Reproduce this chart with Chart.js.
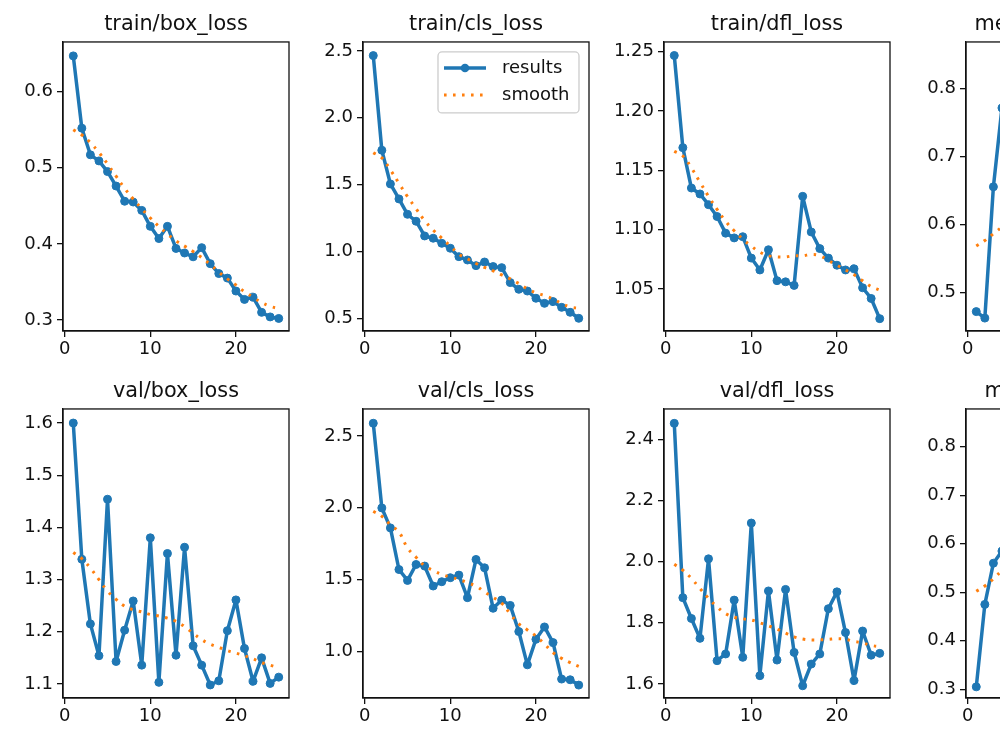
<!DOCTYPE html>
<html>
<head>
<meta charset="utf-8">
<script src="https://cdn.jsdelivr.net/npm/chart.js@4.4.1/dist/chart.umd.min.js"></script>
<style>
  html, body { margin: 0; padding: 0; background: #fff; overflow: hidden; width: 1000px; height: 750px; }
  canvas { position: absolute; }
</style>
</head>
<body>
<script>
// epochs
const epochs = [1, 2, 3, 4, 5, 6, 7, 8, 9, 10, 11, 12, 13, 14, 15, 16, 17, 18, 19, 20, 21, 22, 23, 24, 25];
const xTicks = [0, 10, 20];

// series
const trainBox = [0.647, 0.552, 0.517, 0.509, 0.495, 0.476, 0.456, 0.455, 0.444, 0.423, 0.407, 0.423, 0.394, 0.388, 0.383, 0.395, 0.374, 0.361, 0.355, 0.338, 0.327, 0.330, 0.310, 0.304, 0.302];
const trainBoxSmooth = [0.550, 0.543, 0.533, 0.520, 0.505, 0.489, 0.473, 0.459, 0.446, 0.434, 0.423, 0.413, 0.404, 0.397, 0.390, 0.382, 0.373, 0.363, 0.354, 0.346, 0.337, 0.330, 0.323, 0.318, 0.315];

const trainCls = [2.465, 1.757, 1.505, 1.393, 1.278, 1.226, 1.116, 1.099, 1.061, 1.024, 0.961, 0.936, 0.894, 0.921, 0.887, 0.879, 0.767, 0.717, 0.704, 0.650, 0.612, 0.625, 0.582, 0.545, 0.500];
const trainClsSmooth = [1.739, 1.70, 1.61, 1.51, 1.41, 1.32, 1.23, 1.16, 1.10, 1.04, 0.98, 0.945, 0.91, 0.88, 0.855, 0.825, 0.795, 0.76, 0.72, 0.69, 0.67, 0.645, 0.61, 0.585, 0.575];

const trainDfl = [1.2466, 1.169, 1.135, 1.130, 1.121, 1.111, 1.097, 1.093, 1.094, 1.076, 1.066, 1.083, 1.057, 1.056, 1.053, 1.128, 1.098, 1.084, 1.076, 1.070, 1.066, 1.067, 1.051, 1.042, 1.025];
const trainDflSmooth = [1.166, 1.162, 1.152, 1.140, 1.128, 1.117, 1.107, 1.099, 1.092, 1.086, 1.081, 1.078, 1.077, 1.077, 1.078, 1.078, 1.079, 1.078, 1.074, 1.070, 1.066, 1.062, 1.057, 1.052, 1.049];

// only the first epochs of the cut-off panels are visible
const precision = [0.4715, 0.462, 0.655, 0.771];
const precisionSmooth = [0.568, 0.576, 0.586, 0.596];

const valBox = [1.600, 1.339, 1.215, 1.154, 1.454, 1.143, 1.203, 1.259, 1.136, 1.380, 1.103, 1.350, 1.155, 1.362, 1.173, 1.136, 1.098, 1.106, 1.202, 1.261, 1.168, 1.105, 1.150, 1.101, 1.113];
const valBoxSmooth = [1.352, 1.340, 1.322, 1.300, 1.278, 1.262, 1.249, 1.242, 1.238, 1.233, 1.230, 1.226, 1.220, 1.210, 1.197, 1.185, 1.176, 1.170, 1.164, 1.159, 1.154, 1.148, 1.141, 1.136, 1.131];

const valCls = [2.588, 1.998, 1.859, 1.569, 1.493, 1.604, 1.593, 1.454, 1.484, 1.512, 1.530, 1.373, 1.639, 1.581, 1.299, 1.356, 1.319, 1.137, 0.905, 1.083, 1.169, 1.060, 0.806, 0.801, 0.764];
const valClsSmooth = [1.975, 1.94, 1.88, 1.83, 1.72, 1.655, 1.595, 1.563, 1.535, 1.516, 1.50, 1.477, 1.454, 1.412, 1.375, 1.335, 1.26, 1.19, 1.148, 1.106, 1.05, 0.99, 0.95, 0.92, 0.894];

const valDfl = [2.452, 1.882, 1.814, 1.749, 2.009, 1.676, 1.698, 1.874, 1.687, 2.126, 1.627, 1.904, 1.678, 1.909, 1.703, 1.594, 1.665, 1.698, 1.846, 1.901, 1.768, 1.611, 1.773, 1.694, 1.700];
const valDflSmooth = [1.991, 1.972, 1.945, 1.912, 1.880, 1.852, 1.830, 1.818, 1.813, 1.809, 1.800, 1.790, 1.779, 1.766, 1.754, 1.747, 1.744, 1.744, 1.746, 1.748, 1.746, 1.739, 1.734, 1.726, 1.722];

const map50 = [0.305, 0.475, 0.56, 0.585];
const map50Smooth = [0.502, 0.513, 0.528, 0.545];

// y tick labels per panel
const ticksTrainBox = ['0.3', '0.4', '0.5', '0.6'];
const ticksTrainCls = ['0.5', '1.0', '1.5', '2.0', '2.5'];
const ticksTrainDfl = ['1.05', '1.10', '1.15', '1.20', '1.25'];
const ticksPrecision = ['0.5', '0.6', '0.7', '0.8'];
const ticksValBox = ['1.1', '1.2', '1.3', '1.4', '1.5', '1.6'];
const ticksValCls = ['1.0', '1.5', '2.0', '2.5'];
const ticksValDfl = ['1.6', '1.8', '2.0', '2.2', '2.4'];
const ticksMap50 = ['0.3', '0.4', '0.5', '0.6', '0.7', '0.8'];

const FONT = 'DejaVu Sans';
const INK = '#111';
const TICK_SIZE = 18;

const panels = [
  { title: 'train/box_loss', y: trainBox, s: trainBoxSmooth, ticks: ticksTrainBox, lim: [0.2855, 0.6653], col: 0, row: 0 },
  { title: 'train/cls_loss', y: trainCls, s: trainClsSmooth, ticks: ticksTrainCls, lim: [0.405, 2.567], col: 1, row: 0, legend: true },
  { title: 'train/dfl_loss', y: trainDfl, s: trainDflSmooth, ticks: ticksTrainDfl, lim: [1.0146, 1.258], col: 2, row: 0 },
  { title: 'metrics/precision(B)', y: precision, s: precisionSmooth, ticks: ticksPrecision, lim: [0.443, 0.868], col: 3, row: 0 },
  { title: 'val/box_loss', y: valBox, s: valBoxSmooth, ticks: ticksValBox, lim: [1.073, 1.627], col: 0, row: 1 },
  { title: 'val/cls_loss', y: valCls, s: valClsSmooth, ticks: ticksValCls, lim: [0.674, 2.6875], col: 1, row: 1 },
  { title: 'val/dfl_loss', y: valDfl, s: valDflSmooth, ticks: ticksValDfl, lim: [1.554, 2.499], col: 2, row: 1 },
  { title: 'metrics/mAP50(B)', y: map50, s: map50Smooth, ticks: ticksMap50, lim: [0.282, 0.878], col: 3, row: 1 }
];

const colLeft = [0, 300, 601, 903];
const rowTop = [0, 367];

function xy(vals) {
  return vals.map((v, i) => ({ x: epochs[i], y: v }));
}

// full box around the axes, like matplotlib spines
const frame = {
  id: 'frame',
  afterDraw(chart) {
    const a = chart.chartArea, ctx = chart.ctx;
    ctx.save();
    ctx.strokeStyle = INK;
    ctx.lineWidth = 1.3;
    ctx.strokeRect(a.left, a.top, a.right - a.left, a.bottom - a.top);
    ctx.restore();
  }
};

// boxed legend in the upper right corner of the axes
const boxLegend = {
  id: 'boxLegend',
  afterDraw(chart) {
    const a = chart.chartArea, ctx = chart.ctx;
    const ds = chart.data.datasets;
    const w = 141, h = 61;
    const x0 = a.right - 10 - w, y0 = a.top + 10;
    ctx.save();
    ctx.beginPath();
    ctx.roundRect(x0, y0, w, h, 4);
    ctx.fillStyle = 'rgba(255,255,255,0.8)';
    ctx.fill();
    ctx.strokeStyle = '#cccccc';
    ctx.lineWidth = 1.3;
    ctx.stroke();

    const rows = [y0 + 16, y0 + 43];
    const res = ds.find(d => d.label === 'results');
    const sm = ds.find(d => d.label === 'smooth');
    // results: line with a dot
    ctx.strokeStyle = res.borderColor;
    ctx.lineWidth = res.borderWidth;
    ctx.beginPath();
    ctx.moveTo(x0 + 6, rows[0]);
    ctx.lineTo(x0 + 48, rows[0]);
    ctx.stroke();
    ctx.fillStyle = res.borderColor;
    ctx.beginPath();
    ctx.arc(x0 + 27, rows[0], 4.3, 0, Math.PI * 2);
    ctx.fill();
    // smooth: dotted line
    ctx.strokeStyle = sm.borderColor;
    ctx.lineWidth = sm.borderWidth;
    ctx.setLineDash(sm.borderDash);
    ctx.beginPath();
    ctx.moveTo(x0 + 6, rows[1]);
    ctx.lineTo(x0 + 48, rows[1]);
    ctx.stroke();
    ctx.setLineDash([]);

    ctx.fillStyle = INK;
    ctx.font = TICK_SIZE + 'px "' + FONT + '"';
    ctx.textBaseline = 'middle';
    ctx.textAlign = 'left';
    ctx.fillText(res.label, x0 + 64, rows[0]);
    ctx.fillText(sm.label, x0 + 64, rows[1]);
    ctx.restore();
  }
};

panels.forEach(p => {
  const cv = document.createElement('canvas');
  cv.width = 300;
  cv.height = 370;
  cv.style.left = colLeft[p.col] + 'px';
  cv.style.top = rowTop[p.row] + 'px';
  document.body.appendChild(cv);

  const plugins = [frame];
  if (p.legend) plugins.push(boxLegend);

  new Chart(cv, {
    type: 'line',
    data: {
      datasets: [{
        label: 'results',
        data: xy(p.y),
        borderColor: '#1f77b4',
        backgroundColor: '#1f77b4',
        borderWidth: 3.5,
        borderJoinStyle: 'round',
        borderCapStyle: 'round',
        pointRadius: 4,
        pointBorderWidth: 1,
        pointHoverRadius: 4,
        tension: 0,
        order: 1
      }, {
        label: 'smooth',
        data: xy(p.s),
        borderColor: '#ff7f0e',
        borderWidth: 3,
        borderDash: [2.6, 6.4],
        borderCapStyle: 'butt',
        pointRadius: 0,
        tension: 0.4,
        order: 0
      }]
    },
    options: {
      responsive: false,
      animation: false,
      devicePixelRatio: 1,
      layout: { padding: { left: 0, right: 11, top: 0, bottom: 0 } },
      plugins: {
        legend: { display: false },
        tooltip: { enabled: false },
        title: {
          display: true,
          text: p.title,
          fullSize: false,
          color: INK,
          font: { family: FONT, size: 20.8, weight: 'normal', lineHeight: 1.2 },
          padding: { top: 12.5, bottom: 4.5 }
        }
      },
      scales: {
        x: {
          type: 'linear',
          min: -0.2,
          max: 26.2,
          afterBuildTicks: s => { s.ticks = xTicks.map(v => ({ value: v })); },
          afterFit: s => { s.height = 39; },
          grid: { display: true, drawOnChartArea: false, tickLength: 6, color: INK, lineWidth: 1.3 },
          border: { display: true, color: INK, width: 1.3 },
          ticks: {
            color: INK,
            font: { family: FONT, size: TICK_SIZE },
            padding: 2,
            maxRotation: 0,
            callback: v => String(v)
          }
        },
        y: {
          type: 'linear',
          min: p.lim[0],
          max: p.lim[1],
          afterBuildTicks: s => { s.ticks = p.ticks.map(t => ({ value: parseFloat(t) })); },
          afterFit: s => { s.width = 63; },
          grid: { display: true, drawOnChartArea: false, tickLength: 6, color: INK, lineWidth: 1.3 },
          border: { display: true, color: INK, width: 1.3 },
          ticks: {
            color: INK,
            font: { family: FONT, size: TICK_SIZE },
            padding: 4,
            callback: (v, i) => p.ticks[i]
          }
        }
      }
    },
    plugins: plugins
  });
});
</script>
</body>
</html>
